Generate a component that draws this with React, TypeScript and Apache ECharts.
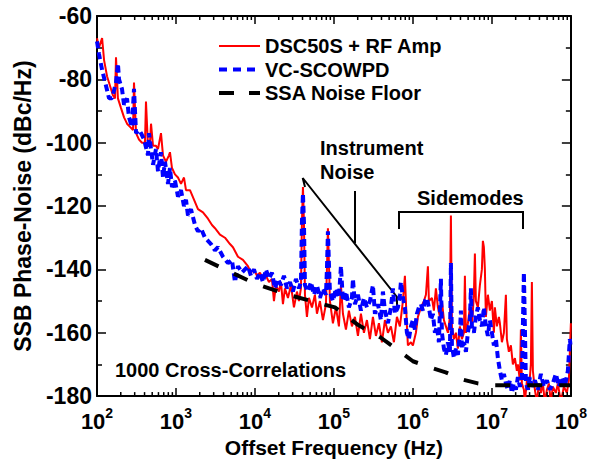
import React, { useEffect, useRef } from "react";
import * as echarts from "echarts";

const FONT = '"Liberation Sans", Arial, Helvetica, sans-serif';

// [offset frequency (Hz), SSB phase noise (dBc/Hz)]
const dscRfAmp: number[][] = [
  [100, -67], [106, -70], [116, -67], [123, -74], [134, -79], [146, -82], [159, -85], [169, -86], [174, -73],
  [184, -86], [201, -89], [220, -92], [240, -94], [262, -95], [286, -96], [294, -81], [312, -97], [340, -99],
  [371, -100], [405, -100], [417, -87], [442, -101], [469, -100], [483, -94], [512, -101], [558, -101],
  [592, -102], [646, -97], [685, -104], [747, -106], [815, -104], [839, -103], [890, -108], [971, -110],
  [1060, -111], [1157, -113], [1263, -111], [1339, -115], [1504, -115], [1690, -118], [1899, -121],
  [2197, -122], [2542, -124], [2856, -126], [3117, -127], [3606, -129], [4171, -130], [4826, -132],
  [5266, -133], [6092, -136], [7047, -137], [8152, -139],
  [8896, -141], [9709, -140], [1.06e4, -142], [1.157e4, -141], [1.263e4, -143], [1.378e4, -142],
  [1.504e4, -144], [1.641e4, -143], [1.74e4, -150], [1.844e4, -145], [2.013e4, -147], [2.134e4, -144],
  [2.262e4, -151], [2.398e4, -146], [2.617e4, -149], [2.856e4, -145], [3.117e4, -152], [3.402e4, -147],
  [3.606e4, -150], [3.822e4, -146], [3.935e4, -125], [4.052e4, -114], [4.171e4, -125], [4.295e4, -148],
  [4.552e4, -155], [4.826e4, -149], [5.266e4, -152], [5.747e4, -148], [6.092e4, -154], [6.648e4, -150],
  [7.255e4, -156], [7.918e4, -151], [8.152e4, -140], [8.393e4, -127], [8.641e4, -138], [8.896e4, -150],
  [9.709e4, -157], [1.06e5, -152], [1.157e5, -158], [1.226e5, -145], [1.3e5, -154], [1.419e5, -159],
  [1.548e5, -153], [1.69e5, -158], [1.844e5, -155], [2.013e5, -161], [2.197e5, -154], [2.398e5, -160],
  [2.617e5, -156], [2.856e5, -162], [3.117e5, -155], [3.402e5, -161], [3.712e5, -157], [4.052e5, -163],
  [4.422e5, -156], [4.826e5, -160], [5.266e5, -158], [5.747e5, -163], [6.272e5, -155], [6.845e5, -158],
  [7.469e5, -150], [7.918e5, -142],
  [8.393e5, -158], [8.641e5, -164], [9.43e5, -163], [1e6, -164], [1.091e6, -160], [1.157e6, -155],
  [1.263e6, -152], [1.378e6, -150], [1.461e6, -148], [1.548e6, -139], [1.594e6, -150], [1.74e6, -149],
  [1.844e6, -153], [1.955e6, -146], [2.072e6, -152], [2.197e6, -155], [2.329e6, -150], [2.469e6, -156],
  [2.617e6, -158], [2.774e6, -160], [2.941e6, -155], [3.027e6, -123], [3.117e6, -158], [3.304e6, -162],
  [3.502e6, -160], [3.712e6, -165], [3.935e6, -158], [4.171e6, -162], [4.422e6, -160], [4.552e6, -142],
  [4.687e6, -160], [4.968e6, -157], [5.266e6, -152], [5.582e6, -158], [5.917e6, -148], [6.092e6, -135],
  [6.272e6, -150], [6.648e6, -152], [7.047e6, -145], [7.469e6, -140], [7.69e6, -131], [7.918e6, -133],
  [8.152e6, -140], [8.393e6, -155], [8.896e6, -148], [9.43e6, -153], [1e7, -150], [1.06e7, -160],
  [1.091e7, -152], [1.157e7, -158], [1.226e7, -155], [1.263e7, -157], [1.339e7, -163], [1.419e7, -160],
  [1.504e7, -148], [1.548e7, -162], [1.641e7, -166], [1.74e7, -164], [1.844e7, -170], [1.955e7, -168],
  [2.072e7, -172], [2.134e7, -170], [2.262e7, -175], [2.329e7, -159], [2.398e7, -176], [2.542e7, -178],
  [2.617e7, -182], [2.774e7, -175], [2.941e7, -178], [3.117e7, -170], [3.209e7, -144], [3.304e7, -172],
  [3.502e7, -178], [3.712e7, -182], [3.935e7, -176], [4.171e7, -179], [4.422e7, -176], [4.687e7, -182],
  [4.968e7, -178], [5.266e7, -176], [5.582e7, -182], [5.917e7, -177], [6.457e7, -179], [6.845e7, -176],
  [7.469e7, -182], [8.152e7, -177], [8.896e7, -179], [9.43e7, -175], [1e8, -157],
];

const vcScowpd: number[][] = [
  [100, -68], [106, -72], [116, -77], [130, -82], [142, -86], [155, -86], [174, -81], [184, -75], [190, -80],
  [207, -83], [220, -88], [240, -86], [254, -92], [277, -95], [294, -83], [312, -97], [340, -96], [361, -97],
  [394, -99], [442, -104], [455, -97], [483, -102], [512, -107], [558, -102], [592, -109], [646, -103],
  [685, -111], [726, -106], [792, -113], [839, -108], [890, -114], [971, -112], [1060, -117], [1157, -115],
  [1263, -120], [1339, -118], [1419, -123], [1548, -121], [1740, -126], [1899, -128], [2072, -127],
  [2329, -130], [2542, -131], [2774, -132], [3117, -134], [3402, -133], [3935, -136], [4552, -138],
  [5115, -137], [5582, -144], [6092, -139], [6845, -141], [7469, -140],
  [8152, -139], [8896, -142], [9709, -140], [1.06e4, -143], [1.157e4, -141], [1.263e4, -144],
  [1.378e4, -140], [1.504e4, -143], [1.641e4, -141], [1.791e4, -146], [1.955e4, -143], [2.134e4, -145],
  [2.329e4, -142], [2.542e4, -146], [2.774e4, -144], [3.027e4, -147], [3.304e4, -143], [3.606e4, -146],
  [3.822e4, -144], [3.935e4, -125], [4.052e4, -116], [4.171e4, -125], [4.295e4, -145], [4.687e4, -147],
  [5.115e4, -144], [5.582e4, -148], [6.092e4, -145], [6.648e4, -149], [7.255e4, -146], [7.918e4, -148],
  [8.152e4, -140], [8.393e4, -128], [8.641e4, -138], [8.896e4, -147], [9.709e4, -150], [1.06e5, -146],
  [1.157e5, -149], [1.226e5, -139], [1.3e5, -150], [1.419e5, -147], [1.548e5, -152], [1.69e5, -149],
  [1.74e5, -143], [1.844e5, -151], [2.013e5, -148], [2.197e5, -153], [2.398e5, -149], [2.617e5, -152],
  [2.856e5, -150], [3.117e5, -145], [3.304e5, -154], [3.606e5, -151], [3.935e5, -156], [4.171e5, -147],
  [4.422e5, -153], [4.826e5, -157], [5.266e5, -152], [5.582e5, -146], [5.917e5, -154], [6.457e5, -152],
  [6.845e5, -148], [7.047e5, -144],
  [7.469e5, -149], [7.918e5, -152], [8.393e5, -160], [8.896e5, -162], [9.43e5, -158], [1e6, -156],
  [1.06e6, -159], [1.124e6, -154], [1.191e6, -152], [1.263e6, -151], [1.339e6, -153], [1.419e6, -150],
  [1.504e6, -149], [1.594e6, -152], [1.69e6, -156], [1.791e6, -154], [1.899e6, -160], [2.013e6, -158],
  [2.134e6, -163], [2.262e6, -143], [2.329e6, -160], [2.469e6, -165], [2.617e6, -167], [2.774e6, -163],
  [2.941e6, -166], [3.027e6, -138], [3.117e6, -164], [3.304e6, -168], [3.502e6, -165], [3.712e6, -167],
  [3.935e6, -160], [4.052e6, -153], [4.171e6, -165], [4.422e6, -163], [4.687e6, -166], [4.968e6, -160],
  [5.266e6, -156], [5.422e6, -146], [5.582e6, -158], [5.917e6, -160], [6.272e6, -155], [6.648e6, -152],
  [7.047e6, -156], [7.469e6, -158], [7.918e6, -152], [8.393e6, -158], [8.896e6, -161], [9.43e6, -156],
  [1e7, -160], [1.06e7, -164], [1.124e7, -162], [1.191e7, -168], [1.263e7, -172], [1.339e7, -175],
  [1.419e7, -173], [1.504e7, -176], [1.594e7, -178], [1.69e7, -175], [1.791e7, -179], [1.899e7, -176],
  [2.013e7, -178], [2.134e7, -174], [2.262e7, -177], [2.398e7, -175], [2.542e7, -141], [2.695e7, -176],
  [2.856e7, -178], [3.027e7, -174], [3.209e7, -177], [3.502e7, -175], [3.822e7, -178], [4.171e7, -173],
  [4.552e7, -177], [4.968e7, -175], [5.422e7, -178], [5.917e7, -176], [6.457e7, -173], [7.047e7, -177],
  [7.69e7, -174], [8.393e7, -177], [9.159e7, -172], [9.709e7, -162], [1e8, -165],
];

const ssaFloor: number[][] = [
  [2327, -137], [1e4, -144.5], [2.62e4, -148], [1.03e5, -152], [2.01e5, -157.5], [3.9e5, -161.5],
  [6.46e5, -165.5], [1e6, -169], [1.69e6, -171], [2.6e6, -172.5], [4.3e6, -174.8], [6.65e6, -176],
  [1e7, -176.6], [1e8, -176.6],
];

const decades = [1e2, 1e3, 1e4, 1e5, 1e6, 1e7];
const minorMultipliers = [2, 3, 4, 5, 6, 7, 8, 9];
const minorTickValues = decades.flatMap((d) => minorMultipliers.map((m) => m * d));

const seriesNames = ["DSC50S + RF Amp", "VC-SCOWPD", "SSA Noise Floor"];

export default function App() {
  const ref = useRef<HTMLDivElement>(null);
  useEffect(() => {
    document.body.style.margin = "0";
    document.body.style.overflow = "hidden";
    document.documentElement.style.overflow = "hidden";
    if (!ref.current) return;
    const chart = echarts.init(ref.current, undefined, { renderer: "svg" });
    const axisLine = { show: true, onZero: false, lineStyle: { color: "#000", width: 2 } };
    const tickStyle = { color: "#000", width: 1.5 };
    const xCommon: any = {
      type: "log",
      logBase: 10,
      min: 100,
      max: 1e8,
      axisLine,
      splitLine: { show: false },
      axisTick: { show: true, inside: true, length: 8, lineStyle: tickStyle },
    };
    const yCommon: any = {
      type: "value",
      min: -180,
      max: -60,
      interval: 20,
      axisLine,
      splitLine: { show: false },
      axisTick: { show: true, inside: true, length: 9, lineStyle: tickStyle },
      minorTick: { show: true, splitNumber: 2, length: 5, lineStyle: tickStyle },
    };
    const option: any = {
      animation: false,
      grid: { left: 97, right: 16, top: 16, bottom: 61, containLabel: false },
      legend: {
        orient: "vertical",
        left: 217,
        top: 36,
        itemWidth: 41,
        itemHeight: 14,
        itemGap: 3.5,
        padding: 0,
        itemStyle: { opacity: 0, color: "rgba(0,0,0,0)", borderWidth: 0 },
        textStyle: { fontSize: 20, fontWeight: "bold", fontFamily: FONT, color: "#000", lineHeight: 20 },
        data: [
          { name: seriesNames[0] },
          { name: seriesNames[1], lineStyle: { type: [8, 6], width: 4 } },
          { name: seriesNames[2], lineStyle: { type: [15, 15], width: 4 } },
        ],
      },
      xAxis: [
        {
          ...xCommon,
          position: "bottom",
          name: "Offset Frequency (Hz)",
          nameLocation: "middle",
          nameGap: 35,
          nameTextStyle: { fontSize: 21, fontWeight: "bold", fontFamily: FONT, color: "#000" },
          axisLabel: {
            margin: 10,
            color: "#000",
            formatter: (v: number) => `{b|10}{s|${Math.round(Math.log10(v))}}`,
            rich: {
              b: { fontSize: 22, fontWeight: "bold", fontFamily: FONT, color: "#000", lineHeight: 26, verticalAlign: "bottom" },
              s: { fontSize: 14, fontWeight: "bold", fontFamily: FONT, color: "#000", lineHeight: 26, verticalAlign: "top", padding: [0, 0, 10, 0] },
            },
          },
        },
        { ...xCommon, position: "top", axisLabel: { show: false } },
      ],
      yAxis: [
        {
          ...yCommon,
          position: "left",
          name: "SSB Phase-Noise (dBc/Hz)",
          nameLocation: "middle",
          nameRotate: 90,
          nameGap: 63,
          nameTextStyle: { fontSize: 23, fontWeight: "bold", fontFamily: FONT, color: "#000" },
          axisLabel: { margin: 5, fontSize: 23, fontWeight: "bold", fontFamily: FONT, color: "#000" },
        },
        { ...yCommon, position: "right", axisLabel: { show: false } },
      ],
      series: [
        {
          name: seriesNames[0],
          type: "line",
          data: dscRfAmp,
          symbol: "none",
          lineStyle: { color: "#ff0000", width: 2 },
          itemStyle: { color: "#ff0000" },
          z: 2,
        },
        {
          name: seriesNames[1],
          type: "line",
          data: vcScowpd,
          symbol: "none",
          lineStyle: { color: "#0000ff", width: 4, type: [7, 4] },
          itemStyle: { color: "#0000ff" },
          z: 3,
        },
        {
          name: seriesNames[2],
          type: "line",
          data: ssaFloor,
          symbol: "none",
          lineStyle: { color: "#000", width: 4, type: [15, 17] },
          itemStyle: { color: "#000" },
          z: 4,
        },
        {
          name: "minorTicks",
          type: "custom",
          silent: true,
          clip: false,
          z: 5,
          data: minorTickValues.map((v) => [v, -180]),
          encode: { x: 0, y: 1 },
          renderItem: (_params: any, api: any) => {
            const f = api.value(0);
            const b = api.coord([f, -180]);
            const t = api.coord([f, -60]);
            const st = { stroke: "#000", lineWidth: 1.5 };
            return {
              type: "group",
              children: [
                { type: "line", shape: { x1: b[0], y1: b[1], x2: b[0], y2: b[1] - 4 }, style: st },
                { type: "line", shape: { x1: t[0], y1: t[1], x2: t[0], y2: t[1] + 4 }, style: st },
              ],
            };
          },
        },
      ],
      graphic: [
        { type: "text", x: 320, y: 148, style: { text: "Instrument", font: `bold 20px ${FONT}`, fill: "#000", verticalAlign: "middle" } },
        { type: "text", x: 320, y: 172, style: { text: "Noise", font: `bold 20px ${FONT}`, fill: "#000", verticalAlign: "middle" } },
        { type: "text", x: 417, y: 198, style: { text: "Sidemodes", font: `bold 20px ${FONT}`, fill: "#000", verticalAlign: "middle" } },
        { type: "text", x: 115, y: 370, style: { text: "1000 Cross-Correlations", font: `bold 20px ${FONT}`, fill: "#000", verticalAlign: "middle" } },
        { type: "polyline", shape: { points: [[355, 191], [355, 243]] }, style: { stroke: "#000", lineWidth: 2, fill: null } },
        { type: "polyline", shape: { points: [[305, 187], [302.7, 178], [397, 297], [397, 306]] }, style: { stroke: "#000", lineWidth: 2, fill: null } },
        { type: "polyline", shape: { points: [[399, 229], [399, 212], [523, 212], [523, 229]] }, style: { stroke: "#000", lineWidth: 2, fill: null } },
      ],
    };
    chart.setOption(option);
    return () => chart.dispose();
  }, []);
  return <div ref={ref} style={{ width: 590, height: 463, background: "#fff" }} />;
}
